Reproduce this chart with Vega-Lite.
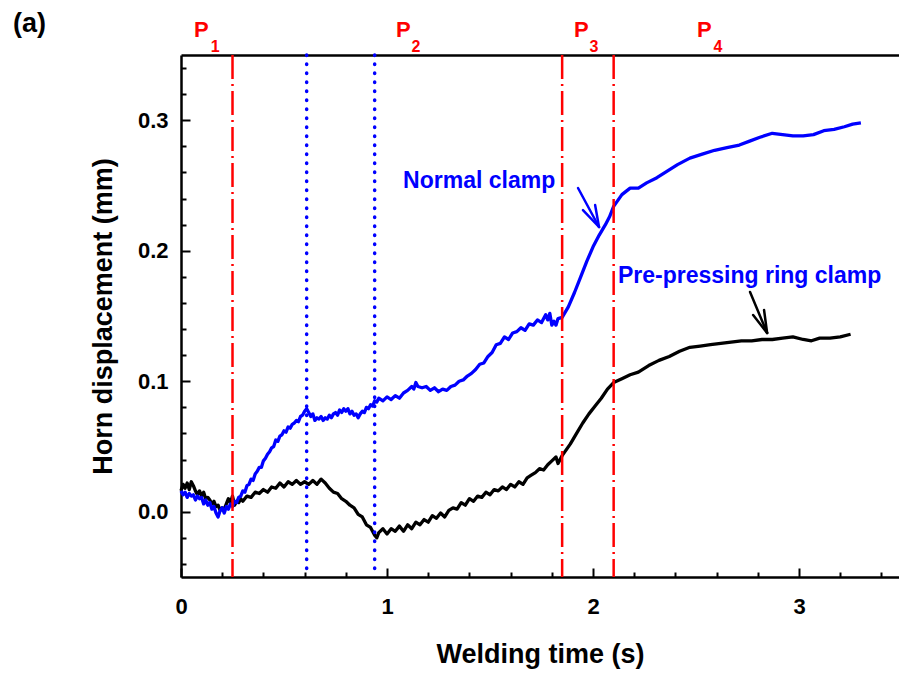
{
  "$schema": "https://vega.github.io/schema/vega-lite/v6.json",
  "width": 718,
  "height": 522,
  "autosize": "none",
  "padding": {"left": 181, "top": 55, "right": 0, "bottom": 96},
  "background": "white",
  "config": {
    "view": {"stroke": null},
    "font": "Liberation Sans",
    "axis": {"grid": false, "domainColor": "black", "tickColor": "black", "labelColor": "black", "titleColor": "black", "labelFont": "Liberation Sans", "titleFont": "Liberation Sans", "labelFontWeight": "bold", "titleFontWeight": "bold"}
  },
  "datasets": {
    "blue": [
      {"t":0.00,"d":0.016},{"t":0.01,"d":0.013},{"t":0.02,"d":0.015},{"t":0.03,"d":0.011},{"t":0.04,"d":0.014},{"t":0.05,"d":0.012},{"t":0.06,"d":0.013},{"t":0.07,"d":0.009},{"t":0.08,"d":0.012},{"t":0.09,"d":0.010},
      {"t":0.10,"d":0.011},{"t":0.11,"d":0.006},{"t":0.12,"d":0.009},{"t":0.13,"d":0.005},{"t":0.14,"d":0.007},{"t":0.15,"d":0.002},{"t":0.16,"d":0.004},{"t":0.17,"d":-0.001},{"t":0.18,"d":-0.004},{"t":0.19,"d":0.001},
      {"t":0.20,"d":0.003},{"t":0.21,"d":-0.001},{"t":0.22,"d":0.004},{"t":0.23,"d":0.002},{"t":0.24,"d":0.006},{"t":0.25,"d":0.004},{"t":0.26,"d":0.008},{"t":0.27,"d":0.007},{"t":0.28,"d":0.011},{"t":0.29,"d":0.012},
      {"t":0.30,"d":0.016},{"t":0.31,"d":0.015},{"t":0.32,"d":0.020},{"t":0.33,"d":0.021},{"t":0.34,"d":0.025},{"t":0.35,"d":0.024},{"t":0.36,"d":0.029},{"t":0.37,"d":0.031},{"t":0.38,"d":0.034},{"t":0.39,"d":0.034},
      {"t":0.40,"d":0.039},{"t":0.41,"d":0.041},{"t":0.42,"d":0.044},{"t":0.43,"d":0.046},{"t":0.44,"d":0.049},{"t":0.45,"d":0.050},{"t":0.46,"d":0.055},{"t":0.47,"d":0.054},{"t":0.48,"d":0.058},{"t":0.49,"d":0.059},
      {"t":0.50,"d":0.062},{"t":0.51,"d":0.061},{"t":0.52,"d":0.065},{"t":0.53,"d":0.064},{"t":0.54,"d":0.067},{"t":0.55,"d":0.068},{"t":0.56,"d":0.070},{"t":0.57,"d":0.069},{"t":0.58,"d":0.073},{"t":0.59,"d":0.074},
      {"t":0.60,"d":0.077},{"t":0.61,"d":0.079},{"t":0.62,"d":0.076},{"t":0.63,"d":0.073},{"t":0.64,"d":0.075},{"t":0.65,"d":0.070},{"t":0.66,"d":0.072},{"t":0.67,"d":0.071},{"t":0.68,"d":0.073},{"t":0.69,"d":0.070},
      {"t":0.70,"d":0.072},{"t":0.71,"d":0.071},{"t":0.72,"d":0.074},{"t":0.73,"d":0.072},{"t":0.74,"d":0.075},{"t":0.75,"d":0.076},{"t":0.76,"d":0.074},{"t":0.77,"d":0.078},{"t":0.78,"d":0.076},{"t":0.79,"d":0.079},
      {"t":0.80,"d":0.077},{"t":0.81,"d":0.079},{"t":0.82,"d":0.075},{"t":0.83,"d":0.077},{"t":0.84,"d":0.074},{"t":0.85,"d":0.075},{"t":0.86,"d":0.072},{"t":0.87,"d":0.075},{"t":0.88,"d":0.077},{"t":0.89,"d":0.076},
      {"t":0.90,"d":0.080},{"t":0.91,"d":0.079},{"t":0.92,"d":0.082},{"t":0.93,"d":0.081},{"t":0.94,"d":0.085},{"t":0.95,"d":0.084},{"t":0.96,"d":0.087},{"t":0.98,"d":0.085},{"t":1.00,"d":0.088},{"t":1.02,"d":0.086},
      {"t":1.04,"d":0.089},{"t":1.06,"d":0.087},{"t":1.08,"d":0.091},{"t":1.10,"d":0.093},{"t":1.12,"d":0.096},{"t":1.13,"d":0.094},{"t":1.14,"d":0.099},{"t":1.15,"d":0.096},{"t":1.17,"d":0.095},{"t":1.19,"d":0.096},
      {"t":1.21,"d":0.093},{"t":1.23,"d":0.095},{"t":1.25,"d":0.092},{"t":1.27,"d":0.094},{"t":1.29,"d":0.093},{"t":1.31,"d":0.096},{"t":1.33,"d":0.097},{"t":1.35,"d":0.100},{"t":1.37,"d":0.101},{"t":1.39,"d":0.104},
      {"t":1.41,"d":0.106},{"t":1.43,"d":0.109},{"t":1.45,"d":0.113},{"t":1.47,"d":0.114},{"t":1.49,"d":0.119},{"t":1.51,"d":0.122},{"t":1.53,"d":0.128},{"t":1.55,"d":0.129},{"t":1.57,"d":0.134},{"t":1.59,"d":0.132},
      {"t":1.61,"d":0.137},{"t":1.63,"d":0.138},{"t":1.65,"d":0.141},{"t":1.67,"d":0.139},{"t":1.69,"d":0.144},{"t":1.71,"d":0.143},{"t":1.73,"d":0.147},{"t":1.75,"d":0.145},{"t":1.77,"d":0.151},{"t":1.78,"d":0.147},
      {"t":1.79,"d":0.152},{"t":1.80,"d":0.143},{"t":1.81,"d":0.146},{"t":1.82,"d":0.143},{"t":1.83,"d":0.148},{"t":1.85,"d":0.149},{"t":1.88,"d":0.157},{"t":1.91,"d":0.168},{"t":1.94,"d":0.180},{"t":1.97,"d":0.192},
      {"t":2.00,"d":0.203},{"t":2.03,"d":0.212},{"t":2.06,"d":0.220},{"t":2.08,"d":0.226},{"t":2.10,"d":0.234},{"t":2.14,"d":0.243},{"t":2.18,"d":0.248},{"t":2.22,"d":0.248},{"t":2.26,"d":0.252},{"t":2.31,"d":0.256},
      {"t":2.36,"d":0.261},{"t":2.41,"d":0.266},{"t":2.47,"d":0.271},{"t":2.53,"d":0.274},{"t":2.59,"d":0.277},{"t":2.65,"d":0.279},{"t":2.71,"d":0.281},{"t":2.76,"d":0.284},{"t":2.81,"d":0.287},{"t":2.87,"d":0.290},
      {"t":2.92,"d":0.289},{"t":2.97,"d":0.288},{"t":3.02,"d":0.288},{"t":3.07,"d":0.289},{"t":3.12,"d":0.292},{"t":3.17,"d":0.293},{"t":3.22,"d":0.295},{"t":3.26,"d":0.297},{"t":3.30,"d":0.298}
    ],
    "black": [
      {"t":0.00,"d":0.016},{"t":0.01,"d":0.021},{"t":0.02,"d":0.018},{"t":0.03,"d":0.022},{"t":0.04,"d":0.017},{"t":0.05,"d":0.023},{"t":0.06,"d":0.020},{"t":0.07,"d":0.016},{"t":0.08,"d":0.013},{"t":0.09,"d":0.016},
      {"t":0.10,"d":0.012},{"t":0.11,"d":0.015},{"t":0.12,"d":0.010},{"t":0.13,"d":0.011},{"t":0.14,"d":0.009},{"t":0.15,"d":0.006},{"t":0.16,"d":0.008},{"t":0.17,"d":0.004},{"t":0.18,"d":0.005},{"t":0.19,"d":0.001},
      {"t":0.20,"d":0.003},{"t":0.21,"d":0.002},{"t":0.22,"d":0.006},{"t":0.23,"d":0.010},{"t":0.24,"d":0.007},{"t":0.25,"d":0.012},{"t":0.26,"d":0.005},{"t":0.27,"d":0.008},{"t":0.28,"d":0.007},{"t":0.29,"d":0.010},
      {"t":0.30,"d":0.008},{"t":0.32,"d":0.012},{"t":0.34,"d":0.011},{"t":0.36,"d":0.015},{"t":0.38,"d":0.014},{"t":0.40,"d":0.017},{"t":0.42,"d":0.015},{"t":0.44,"d":0.019},{"t":0.46,"d":0.018},{"t":0.48,"d":0.022},
      {"t":0.50,"d":0.019},{"t":0.52,"d":0.023},{"t":0.54,"d":0.021},{"t":0.56,"d":0.024},{"t":0.58,"d":0.021},{"t":0.60,"d":0.023},{"t":0.62,"d":0.021},{"t":0.64,"d":0.024},{"t":0.66,"d":0.021},{"t":0.68,"d":0.025},
      {"t":0.70,"d":0.022},{"t":0.72,"d":0.018},{"t":0.74,"d":0.015},{"t":0.76,"d":0.014},{"t":0.78,"d":0.010},{"t":0.80,"d":0.008},{"t":0.82,"d":0.005},{"t":0.84,"d":0.003},{"t":0.86,"d":-0.002},{"t":0.88,"d":-0.004},
      {"t":0.90,"d":-0.010},{"t":0.92,"d":-0.012},{"t":0.94,"d":-0.018},{"t":0.95,"d":-0.020},{"t":0.96,"d":-0.016},{"t":0.98,"d":-0.013},{"t":1.00,"d":-0.017},{"t":1.02,"d":-0.013},{"t":1.04,"d":-0.015},{"t":1.06,"d":-0.011},
      {"t":1.08,"d":-0.015},{"t":1.10,"d":-0.010},{"t":1.12,"d":-0.013},{"t":1.14,"d":-0.008},{"t":1.16,"d":-0.010},{"t":1.18,"d":-0.006},{"t":1.20,"d":-0.008},{"t":1.22,"d":-0.003},{"t":1.24,"d":-0.005},{"t":1.26,"d":-0.001},
      {"t":1.28,"d":-0.004},{"t":1.30,"d":0.001},{"t":1.32,"d":0.003},{"t":1.34,"d":0.002},{"t":1.36,"d":0.007},{"t":1.38,"d":0.005},{"t":1.40,"d":0.010},{"t":1.42,"d":0.008},{"t":1.44,"d":0.012},{"t":1.46,"d":0.011},
      {"t":1.48,"d":0.015},{"t":1.50,"d":0.013},{"t":1.52,"d":0.017},{"t":1.54,"d":0.016},{"t":1.56,"d":0.019},{"t":1.58,"d":0.017},{"t":1.60,"d":0.021},{"t":1.62,"d":0.019},{"t":1.64,"d":0.023},{"t":1.66,"d":0.021},
      {"t":1.68,"d":0.026},{"t":1.70,"d":0.028},{"t":1.72,"d":0.030},{"t":1.74,"d":0.033},{"t":1.76,"d":0.032},{"t":1.78,"d":0.036},{"t":1.80,"d":0.039},{"t":1.82,"d":0.042},{"t":1.83,"d":0.037},{"t":1.85,"d":0.043},
      {"t":1.89,"d":0.052},{"t":1.92,"d":0.060},{"t":1.95,"d":0.068},{"t":1.98,"d":0.075},{"t":2.01,"d":0.081},{"t":2.04,"d":0.087},{"t":2.07,"d":0.094},{"t":2.10,"d":0.099},{"t":2.14,"d":0.102},{"t":2.18,"d":0.105},
      {"t":2.22,"d":0.107},{"t":2.27,"d":0.112},{"t":2.32,"d":0.116},{"t":2.37,"d":0.119},{"t":2.42,"d":0.123},{"t":2.47,"d":0.126},{"t":2.52,"d":0.127},{"t":2.57,"d":0.128},{"t":2.62,"d":0.129},{"t":2.67,"d":0.130},
      {"t":2.72,"d":0.131},{"t":2.77,"d":0.131},{"t":2.82,"d":0.132},{"t":2.87,"d":0.132},{"t":2.92,"d":0.133},{"t":2.97,"d":0.134},{"t":3.02,"d":0.132},{"t":3.06,"d":0.131},{"t":3.10,"d":0.133},{"t":3.15,"d":0.133},
      {"t":3.20,"d":0.134},{"t":3.25,"d":0.136}
    ],
    "redlines": [{"t": 0.25}, {"t": 1.85}, {"t": 2.10}],
    "bluelines": [{"t": 0.61}, {"t": 0.94}],
    "plabels": [
      {"x": 0.063, "y": 0.3638, "txt": "P"},
      {"x": 1.044, "y": 0.3638, "txt": "P"},
      {"x": 1.908, "y": 0.3638, "txt": "P"},
      {"x": 2.505, "y": 0.3638, "txt": "P"}
    ],
    "psubs": [
      {"x": 0.144, "y": 0.3525, "txt": "1"},
      {"x": 1.119, "y": 0.3525, "txt": "2"},
      {"x": 1.983, "y": 0.3525, "txt": "3"},
      {"x": 2.585, "y": 0.3525, "txt": "4"}
    ],
    "notes": [
      {"x": 1.078, "y": 0.2481, "txt": "Normal clamp"},
      {"x": 2.121, "y": 0.1753, "txt": "Pre-pressing ring clamp"}
    ],
    "panel": [{"x": -0.815, "y": 0.368, "txt": "(a)"}],
    "arrows": [
      {"x": 1.927, "y": 0.2481, "x2": 2.029, "y2": 0.2182, "s": "Normal clamp"},
      {"x": 1.951, "y": 0.2312, "x2": 2.029, "y2": 0.2182, "s": "Normal clamp"},
      {"x": 2.010, "y": 0.2351, "x2": 2.029, "y2": 0.2182, "s": "Normal clamp"},
      {"x": 2.762, "y": 0.1684, "x2": 2.845, "y2": 0.1370, "s": "Pre-pressing ring clamp"},
      {"x": 2.777, "y": 0.1508, "x2": 2.845, "y2": 0.1370, "s": "Pre-pressing ring clamp"},
      {"x": 2.830, "y": 0.1546, "x2": 2.845, "y2": 0.1370, "s": "Pre-pressing ring clamp"}
    ]
  },
  "resolve": {"axis": {"x": "independent", "y": "independent"}},
  "layer": [
    {
      "data": {"name": "black"},
      "mark": {"type": "line", "strokeWidth": 3.3, "strokeJoin": "round", "color": "#000000"},
      "encoding": {
        "x": {"field": "t", "type": "quantitative", "scale": {"domain": [0, 3.485], "nice": false, "zero": false},
          "axis": {"orient": "bottom", "values": [0, 1, 2, 3], "format": "d", "labelFlush": false, "tickSize": -9, "tickWidth": 2, "domainWidth": 2.5, "labelFontSize": 22, "labelPadding": 28, "title": "Welding time (s)", "titleFontSize": 27, "titlePadding": 24}},
        "y": {"field": "d", "type": "quantitative", "scale": {"domain": [-0.05, 0.35], "nice": false, "zero": false},
          "axis": {"orient": "left", "values": [0, 0.1, 0.2, 0.3], "format": ".1f", "labelFlush": false, "tickSize": -9, "tickWidth": 2, "domainWidth": 2.5, "labelFontSize": 22, "labelPadding": 22, "title": "Horn displacement (mm)", "titleFontSize": 27, "titlePadding": 20}},
        "order": {"field": "t", "type": "quantitative"}
      }
    },
    {
      "data": {"name": "blue"},
      "mark": {"type": "line", "strokeWidth": 3.3, "strokeJoin": "round", "color": "#0000FF"},
      "encoding": {
        "x": {"field": "t", "type": "quantitative", "scale": {"domain": [0, 3.485], "nice": false, "zero": false}, "axis": null},
        "y": {"field": "d", "type": "quantitative", "scale": {"domain": [-0.05, 0.35], "nice": false, "zero": false}, "axis": null},
        "order": {"field": "t", "type": "quantitative"}
      }
    },
    {
      "data": {"name": "redlines"},
      "mark": {"type": "rule", "color": "#FF0000", "strokeWidth": 2.5, "strokeDash": [24, 5, 2, 5]},
      "encoding": {
        "x": {"field": "t", "type": "quantitative", "scale": {"domain": [0, 3.485], "nice": false, "zero": false},
          "axis": {"orient": "bottom", "values": [0.2, 0.4, 0.6, 0.8, 1.2, 1.4, 1.6, 1.8, 2.2, 2.4, 2.6, 2.8, 3.2, 3.4], "tickSize": -5, "tickWidth": 2, "labels": false, "domain": false, "title": null}}
      }
    },
    {
      "data": {"name": "bluelines"},
      "mark": {"type": "rule", "color": "#0000FF", "strokeWidth": 3.5, "strokeDash": [0.5, 8.5], "strokeCap": "round"},
      "encoding": {
        "x": {"field": "t", "type": "quantitative", "scale": {"domain": [0, 3.485], "nice": false, "zero": false},
          "axis": {"orient": "top", "ticks": false, "labels": false, "domain": true, "domainWidth": 2.5, "title": null}}
      }
    },
    {
      "data": {"name": "plabels"},
      "mark": {"type": "text", "color": "#FF0000", "fontSize": 22, "fontWeight": "bold", "align": "left", "baseline": "alphabetic"},
      "encoding": {
        "x": {"field": "x", "type": "quantitative", "scale": {"domain": [0, 3.485], "nice": false, "zero": false}, "axis": null},
        "y": {"field": "y", "type": "quantitative", "scale": {"domain": [-0.05, 0.35], "nice": false, "zero": false},
          "axis": {"orient": "left", "values": [-0.04, -0.02, 0.02, 0.04, 0.06, 0.08, 0.12, 0.14, 0.16, 0.18, 0.22, 0.24, 0.26, 0.28, 0.32, 0.34], "tickSize": -5, "tickWidth": 2, "labels": false, "domain": false, "title": null}},
        "text": {"field": "txt"}
      }
    },
    {
      "data": {"name": "psubs"},
      "mark": {"type": "text", "color": "#FF0000", "fontSize": 16, "fontWeight": "bold", "align": "left", "baseline": "alphabetic"},
      "encoding": {
        "x": {"field": "x", "type": "quantitative", "scale": {"domain": [0, 3.485], "nice": false, "zero": false}, "axis": null},
        "y": {"field": "y", "type": "quantitative", "scale": {"domain": [-0.05, 0.35], "nice": false, "zero": false}, "axis": null},
        "text": {"field": "txt"}
      }
    },
    {
      "data": {"name": "notes"},
      "mark": {"type": "text", "color": "#0000FF", "fontSize": 23, "fontWeight": "bold", "align": "left", "baseline": "alphabetic"},
      "encoding": {
        "x": {"field": "x", "type": "quantitative", "scale": {"domain": [0, 3.485], "nice": false, "zero": false}, "axis": null},
        "y": {"field": "y", "type": "quantitative", "scale": {"domain": [-0.05, 0.35], "nice": false, "zero": false}, "axis": null},
        "text": {"field": "txt"}
      }
    },
    {
      "data": {"name": "panel"},
      "mark": {"type": "text", "color": "#000000", "fontSize": 27, "fontWeight": "bold", "align": "left", "baseline": "alphabetic"},
      "encoding": {
        "x": {"field": "x", "type": "quantitative", "scale": {"domain": [0, 3.485], "nice": false, "zero": false}, "axis": null},
        "y": {"field": "y", "type": "quantitative", "scale": {"domain": [-0.05, 0.35], "nice": false, "zero": false}, "axis": null},
        "text": {"field": "txt"}
      }
    },
    {
      "data": {"name": "arrows"},
      "mark": {"type": "rule", "strokeWidth": 2.5, "strokeCap": "round"},
      "encoding": {
        "x": {"field": "x", "type": "quantitative", "scale": {"domain": [0, 3.485], "nice": false, "zero": false}, "axis": null},
        "y": {"field": "y", "type": "quantitative", "scale": {"domain": [-0.05, 0.35], "nice": false, "zero": false}, "axis": null},
        "x2": {"field": "x2"},
        "y2": {"field": "y2"},
        "color": {"field": "s", "type": "nominal", "scale": {"domain": ["Normal clamp", "Pre-pressing ring clamp"], "range": ["#0000FF", "#000000"]}, "legend": null}
      }
    }
  ]
}
